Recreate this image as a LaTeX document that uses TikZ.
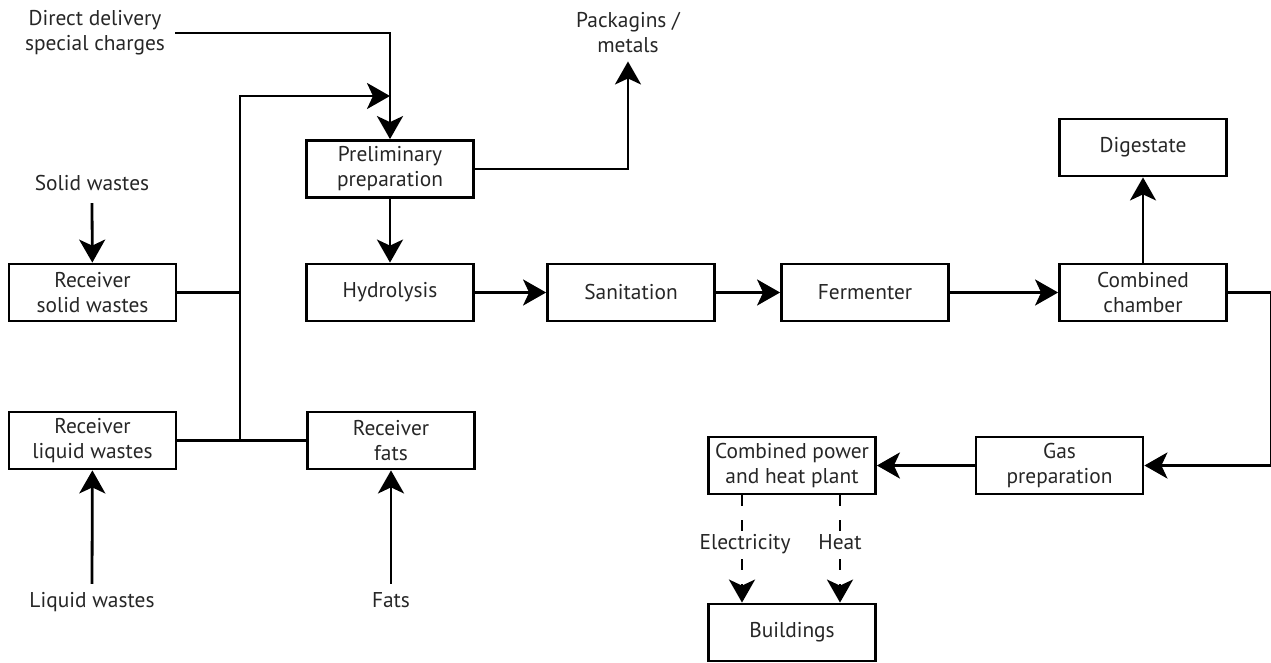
\documentclass[tikz,border=0pt]{standalone}
\usepackage{fontspec}
\setmainfont{PT Sans}
\usetikzlibrary{arrows.meta}
\begin{document}
\begin{tikzpicture}[x=1pt,y=-1pt,
  txt/.style={font=\fontsize{21.4}{25}\selectfont, text=black!85},
  box/.style={txt, draw, line width=2.8pt, minimum width=167pt, minimum height=57pt,
    inner sep=0pt, align=center},
  lbl/.style={txt, align=center, inner sep=2pt},
  onelbl/.style={lbl, text height=15pt, text depth=5pt},
  link/.style={line width=2.8pt},
  flow/.style={link, -{Stealth[length=23pt,width=26pt,inset=6pt]}},
  dashlink/.style={link, dash pattern=on 11pt off 14pt},
  power/.style={flow, dash pattern=on 11pt off 14pt}]
\useasboundingbox (0,0) rectangle (1271,663);

% process boxes
\node[box] (pp)  at (390,169)    {Preliminary\\preparation};
\node[box] (rs)  at (92.5,292.5) {Receiver\\solid wastes};
\node[box] (hy)  at (390,292.5)  {Hydrolysis};
\node[box] (san) at (631,292.5)  {Sanitation};
\node[box] (fer) at (865,292.5)  {Fermenter};
\node[box] (cc)  at (1143,292.5) {Combined\\chamber};
\node[box] (dig) at (1143,147.5) {Digestate};
\node[box] (rl)  at (92.5,440.5) {Receiver\\liquid wastes};
\node[box] (rf)  at (391,440.5)  {Receiver\\fats};
\node[box] (gas) at (1059.5,465.5) {Gas\\preparation};
\node[box] (chp) at (792,465.5)  {Combined power\\and heat plant};
\node[box] (bld) at (792,632.5)  {Buildings};

% free-standing labels
\node[lbl] (dd)   at (95,33)   {Direct delivery\\special charges};
\node[lbl] (pkm)  at (628,33)  {Packagins /\\metals};
\node[onelbl] (sw)   at (92,185)  {Solid wastes};
\node[onelbl] (lw)   at (92,602)  {Liquid wastes};
\node[onelbl] (fats) at (391,602) {Fats};
\node[onelbl] (el)   at (745,544) {Electricity};
\node[onelbl] (ht)   at (840,544) {Heat};

% collector trunk of the receivers
\coordinate (trunk) at (240,96);

% connectors
\draw[flow] ([xshift=8pt]dd.east) -| (pp.north);
\draw[link] (rs.east) -- (rs.east -| trunk);
\draw[link] (rl.east) -- (rf.west);
\draw[flow] (rl.east -| trunk) -- (trunk) -- (trunk -| pp.north);
\draw[flow] ([yshift=-6pt]sw.south) -- (rs);
\draw[flow] ([yshift=6pt]lw.north) -- (rl);
\draw[flow] ([yshift=6pt]fats.north) -- (rf);
\draw[flow] (pp.east) -| ([yshift=-6pt]pkm.south);
\draw[flow] (pp) -- (hy);
\draw[flow] (hy) -- (san);
\draw[flow] (san) -- (fer);
\draw[flow] (fer) -- (cc);
\draw[flow] (cc) -- (dig);
\draw[flow] (cc.east) -- ++(43,0) |- (gas.east);
\draw[flow] (gas) -- (chp);
\draw[dashlink] ([xshift=-3pt]chp.south -| el) -- ([xshift=-3pt]el.north);
\draw[power] ([xshift=-3pt,yshift=-3pt]el.south) -- ([xshift=-3pt]bld.north -| el);
\draw[dashlink] (chp.south -| ht) -- (ht.north);
\draw[power] ([yshift=-3pt]ht.south) -- (bld.north -| ht);
\end{tikzpicture}
\end{document}
